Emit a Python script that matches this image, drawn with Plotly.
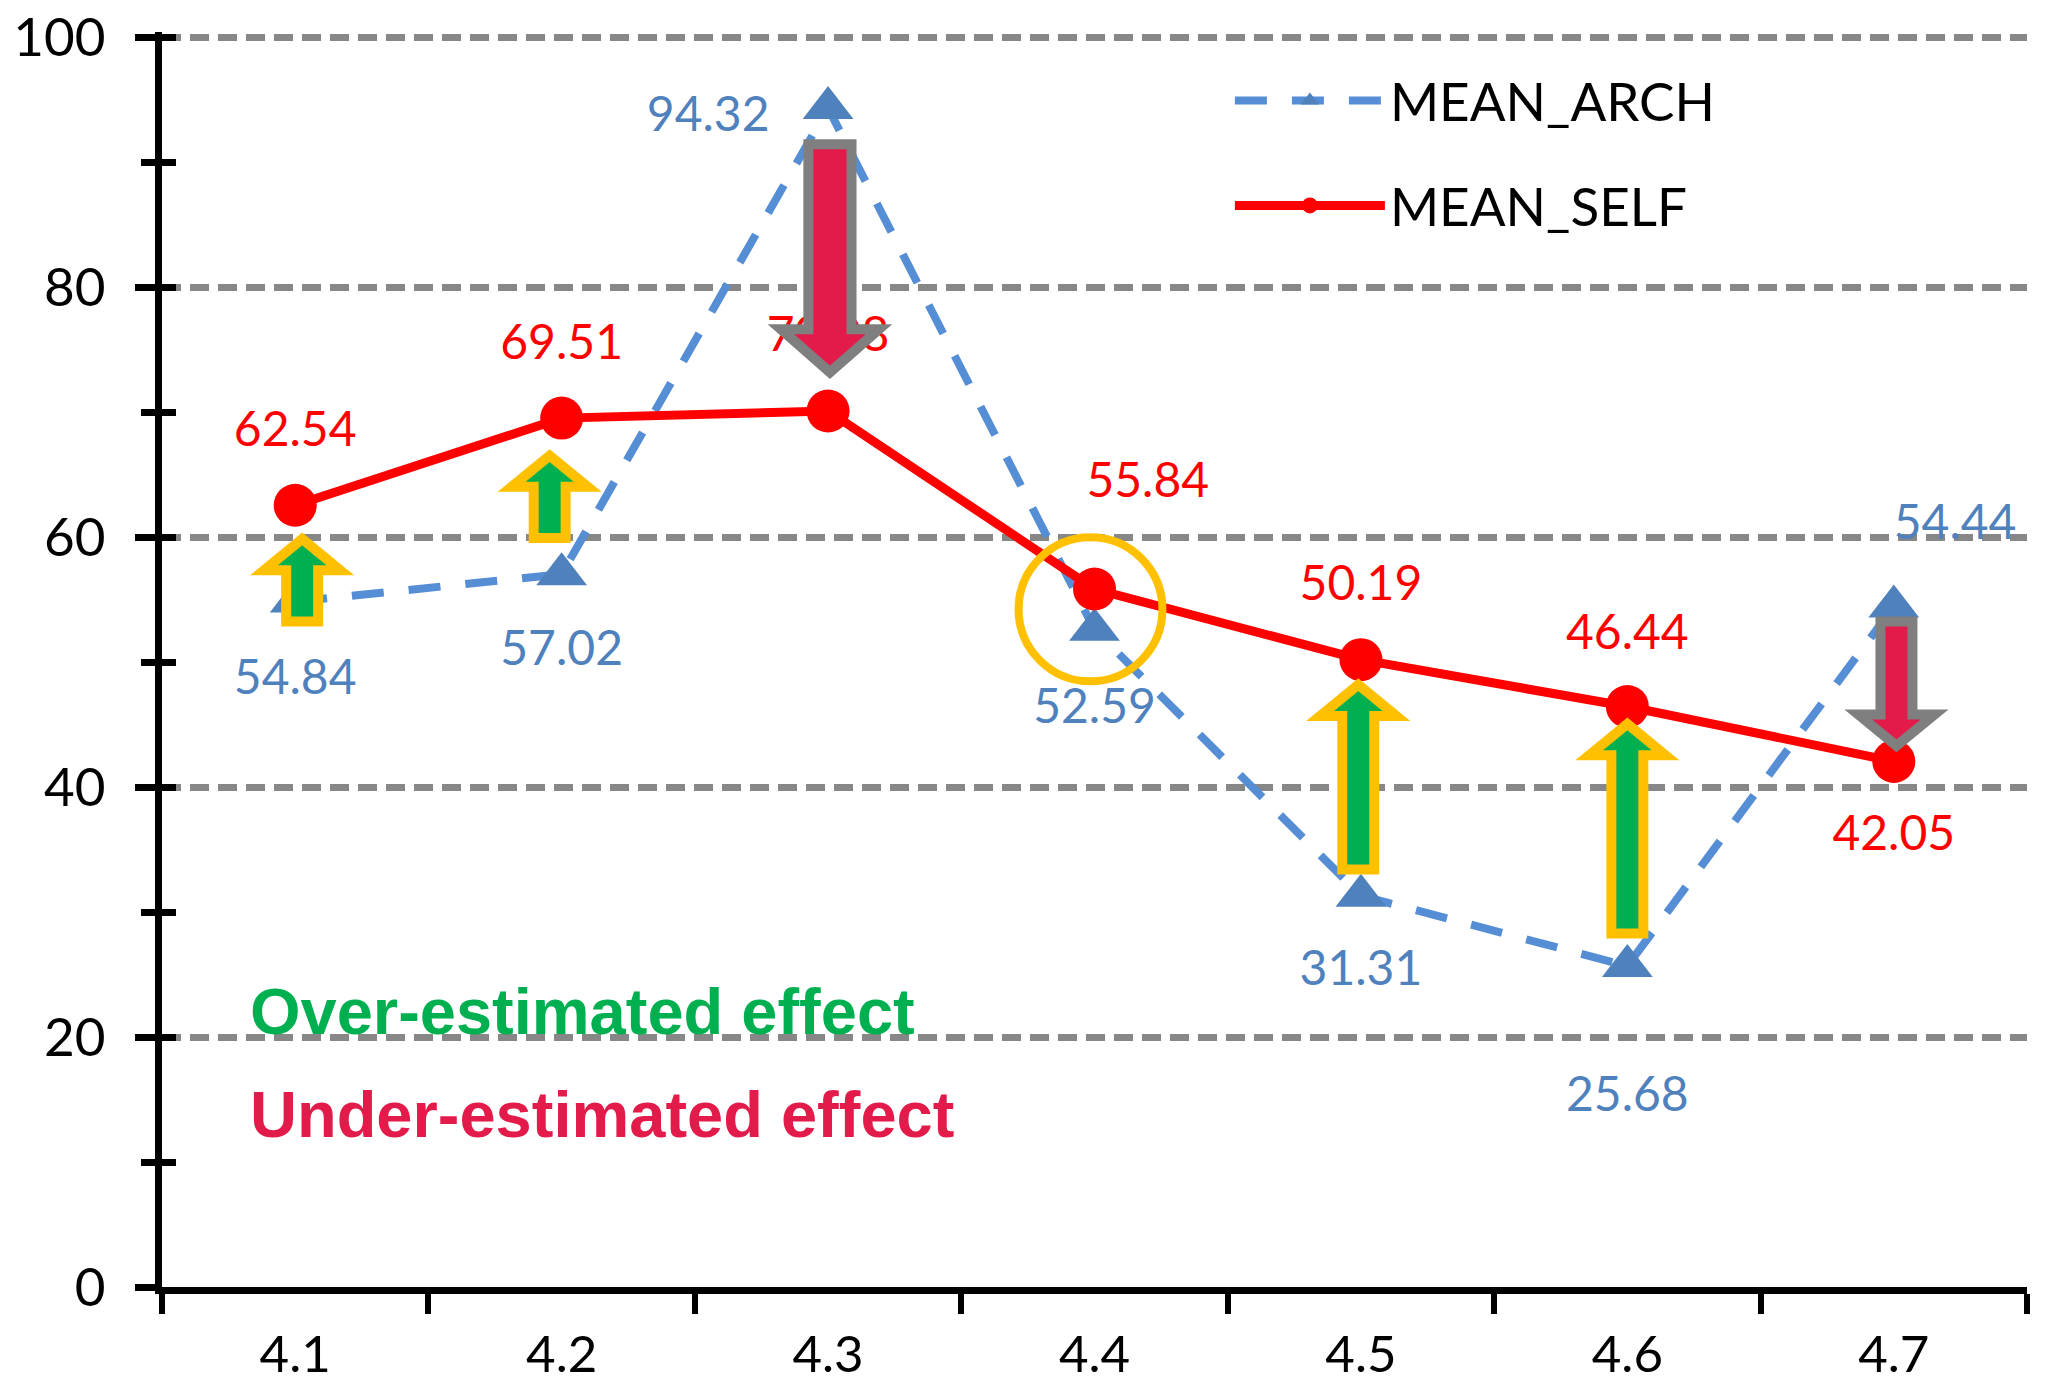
import plotly.graph_objects as go

# ---------------- data ----------------
categories = ["4.1", "4.2", "4.3", "4.4", "4.5", "4.6", "4.7"]
mean_arch = [54.84, 57.02, 94.32, 52.59, 31.31, 25.68, 54.44]
mean_self = [62.54, 69.51, 70.08, 55.84, 50.19, 46.44, 42.05]
y_tick_values = [0, 20, 40, 60, 80, 100]

over_idx = [0, 1, 4, 5]     # ARCH below SELF -> green up arrows
under_idx = [2, 6]          # ARCH above SELF -> red down arrows
circled_idx = 3

# ---------------- styling / placement ----------------
xi = list(range(len(categories)))

self_lbl_dx = [0, 0, 0, 0.2, 0, 0, 0]
self_lbl_dy = [5.7, 5.7, 5.8, 8.3, 5.7, 5.6, -6.1]
arch_lbl_dx = [0, 0, -0.45, 0, 0, 0, 0.23]
arch_lbl_dy = [-6.4, -6.3, -0.9, -6.5, -6.2, -10.6, 6.4]

arrow_start_off = {0: -1.6, 1: 2.9, 2: -2.9, 4: 2.1, 5: 2.6, 6: -1.2}
arrow_end_off = {0: -2.7, 1: -3.0, 2: 3.1, 4: -2.0, 5: -1.4, 6: 1.25}
arrow_dx = {0: 0.026, 1: -0.045, 2: 0.007, 4: -0.01, 5: 0.0, 6: 0.01}

FONT = "Lato, 'Open Sans', sans-serif"
BLUE_LINE = "#558ED5"
BLUE_MARK = "#4F81BD"
RED = "#FF0000"
Y_TOP = 100.4

fig = go.Figure()

fig.add_trace(go.Scatter(
    x=xi, y=mean_arch, name="MEAN_ARCH", mode="lines+markers",
    line=dict(color=BLUE_LINE, width=8, dash="32px,25px"),
    marker=dict(symbol="triangle-up", size=44, color=BLUE_MARK, line=dict(width=0)),
    legendgroup="a", cliponaxis=False,
))
fig.add_trace(go.Scatter(
    x=xi, y=mean_self, name="MEAN_SELF", mode="lines+markers",
    line=dict(color=RED, width=9),
    marker=dict(symbol="circle", size=43, color=RED, line=dict(width=0)),
    legendgroup="b", cliponaxis=False,
))

# data labels
fig.add_trace(go.Scatter(
    x=[x + d for x, d in zip(xi, self_lbl_dx)],
    y=[v + d for v, d in zip(mean_self, self_lbl_dy)],
    text=[f"{v:.2f}" for v in mean_self], mode="text", textposition="middle center",
    textfont=dict(family=FONT, size=48, color=RED), showlegend=False,
    cliponaxis=False, hoverinfo="skip", yaxis="y2",
))
fig.add_trace(go.Scatter(
    x=[x + d for x, d in zip(xi, arch_lbl_dx)],
    y=[v + d for v, d in zip(mean_arch, arch_lbl_dy)],
    text=[f"{v:.2f}" for v in mean_arch], mode="text", textposition="middle center",
    textfont=dict(family=FONT, size=48, color=BLUE_MARK), showlegend=False,
    cliponaxis=False, hoverinfo="skip", yaxis="y2",
))


def arrow_path(xc, y0, y1, sw, hw, hl):
    d = 1 if y1 > y0 else -1
    yb = y1 - d * hl
    pts = [(xc - sw, y0), (xc + sw, y0), (xc + sw, yb), (xc + hw, yb),
           (xc, y1), (xc - hw, yb), (xc - sw, yb)]
    return "M" + " L".join(f"{x:.4f},{y:.3f}" for x, y in pts) + " Z"


shapes = []
for i in over_idx + under_idx:
    big = i == 2
    sw, hw, hl = (0.081, 0.184, 3.44) if big else (0.060, 0.143, 2.5)
    y0 = mean_arch[i] + arrow_start_off[i]
    y1 = mean_self[i] + arrow_end_off[i]
    up = i in over_idx
    shapes.append(dict(
        type="path", xref="x", yref="y", layer="above",
        path=arrow_path(xi[i] + arrow_dx[i], y0, y1, sw, hw, hl),
        fillcolor="#00B050" if up else "#E31B4B",
        line=dict(color="#FFC000" if up else "#7F7F7F", width=10),
    ))

mid = (mean_self[circled_idx] + mean_arch[circled_idx]) / 2
cx = xi[circled_idx] - 0.015
shapes.append(dict(
    type="circle", xref="x", yref="y", layer="above",
    x0=cx - 0.27, x1=cx + 0.27, y0=mid - 5.76, y1=mid + 5.76,
    line=dict(color="#FFC000", width=8), fillcolor="rgba(0,0,0,0)",
))

annotations = [
    dict(text="<b>Over-estimated effect</b>", xref="paper", yref="y", x=0.046, y=22.05,
         xanchor="left", yanchor="middle", showarrow=False,
         font=dict(family="Liberation Sans, Arial", size=65, color="#00B050")),
    dict(text="<b>Under-estimated effect</b>", xref="paper", yref="y", x=0.046, y=13.8,
         xanchor="left", yanchor="middle", showarrow=False,
         font=dict(family="Liberation Sans, Arial", size=65, color="#E31B4B")),
]

fig.update_layout(
    width=2045, height=1389,
    margin=dict(l=162, r=18, t=32, b=102, autoexpand=False),
    paper_bgcolor="white", plot_bgcolor="white",
    font=dict(family=FONT, color="black"),
    shapes=shapes, annotations=annotations,
    showlegend=True,
    legend=dict(x=0.5726, y=0.978, xanchor="left", yanchor="top",
                bgcolor="rgba(0,0,0,0)", font=dict(family=FONT, size=53, color="black"),
                itemwidth=150, tracegroupgap=33, traceorder="grouped"),
    xaxis=dict(
        range=[-0.5, 6.5], tickmode="array", tickvals=xi, ticktext=categories,
        ticks="", showgrid=False, zeroline=False, automargin=False,
        showline=True, linecolor="black", linewidth=7,
        tickfont=dict(family=FONT, size=51, color="black"),
        ticklabelstandoff=17,
        minor=dict(tickmode="array", tickvals=[i - 0.5 for i in range(len(categories) + 1)],
                   ticks="outside", ticklen=20, tickwidth=6, tickcolor="black", showgrid=False),
    ),
    yaxis=dict(
        range=[0, Y_TOP], autorange=False, tickmode="array", tickvals=y_tick_values,
        ticks="outside", ticklen=20, tickwidth=7, tickcolor="black", automargin=False,
        showgrid=True, gridcolor="#878787", gridwidth=7, griddash="19px,9px",
        zeroline=False, showline=True, linecolor="black", linewidth=7,
        tickfont=dict(family=FONT, size=53, color="black"),
        ticklabelstandoff=19,
        minor=dict(dtick=10, tick0=0, ticks="outside", ticklen=14, tickwidth=7,
                   tickcolor="black", showgrid=False),
    ),
    yaxis2=dict(
        overlaying="y", anchor="x", side="left", range=[0, Y_TOP], autorange=False,
        tickmode="array", tickvals=list(range(0, 101, 10)), ticks="inside", ticklen=14,
        tickwidth=7, automargin=False,
        tickcolor="black", showticklabels=False, showgrid=False, showline=False,
        zeroline=False,
    ),
)

fig.write_html("out.html")
